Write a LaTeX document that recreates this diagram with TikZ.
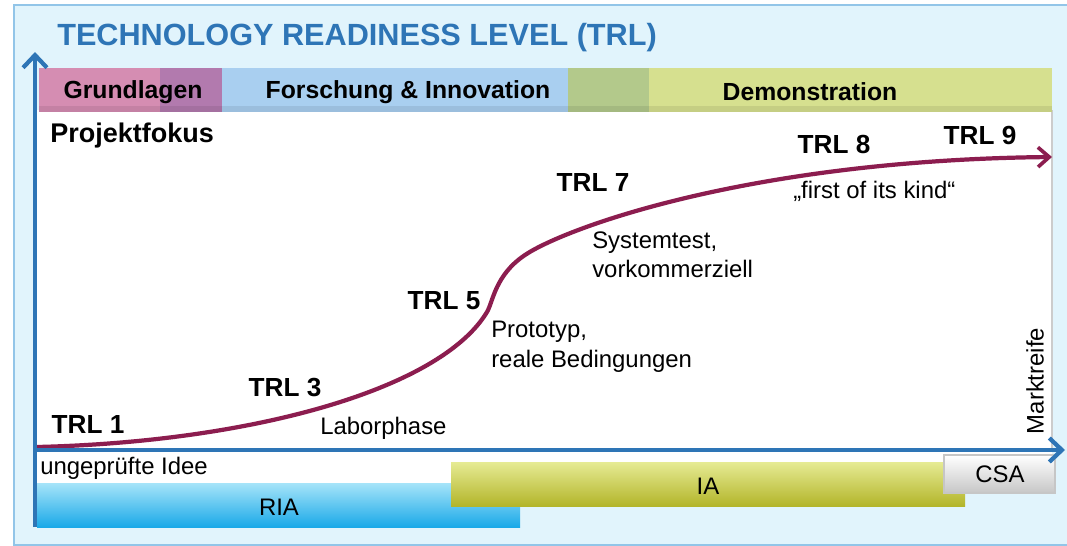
\documentclass[tikz,border=0pt]{standalone}
\usepackage{fontspec}
\setmainfont{Liberation Sans}
\usetikzlibrary{arrows.meta}
\definecolor{bgsky}{HTML}{E1F4FC}
\definecolor{frm}{HTML}{92C5E8}
\definecolor{axblue}{HTML}{2E75B6}
\definecolor{trlred}{HTML}{8C1D4F}
\definecolor{grund}{HTML}{D58DB2}
\definecolor{grfo}{HTML}{B27AAE}
\definecolor{forsch}{HTML}{A9CFF0}
\definecolor{fodemo}{HTML}{B3C98B}
\definecolor{demo}{HTML}{D6E08F}
\definecolor{riatop}{HTML}{A6E4F9}
\definecolor{riabot}{HTML}{1AA9E8}
\definecolor{iatop}{HTML}{E6EB94}
\definecolor{iabot}{HTML}{B3B52A}
\definecolor{csabot}{HTML}{C6C6C6}

\begin{document}
\begin{tikzpicture}[x=0.025cm,y=-0.025cm,inner sep=0pt,
  txt/.style={font=\fontsize{17}{21}\selectfont,align=left},
  trl/.style={font=\fontsize{18.6}{22}\selectfont\bfseries},
  band/.style={font=\fontsize{17.6}{21}\selectfont\bfseries},
  ax/.style={draw=axblue,line width=3pt,-{Straight Barb[length=9pt,width=17pt,line width=3pt]}},
  crv/.style={draw=trlred,line width=3pt,-{Straight Barb[length=8pt,width=14pt,line width=2.6pt]}}]
  \useasboundingbox (0,0) rectangle (1067,546);
  \clip (0,0) rectangle (1067,546);
  \fill[bgsky,draw=frm,line width=1pt] (14,5) rectangle (1080,545);
  \fill[white] (37,110) rectangle (1052,483);
  \draw[gray!40,line width=1.2pt] (1052,110) -- (1052,450);
  \fill[grund] (39,68) rectangle (160,112);\fill[grfo] (160,68) rectangle (222,112);
  \fill[forsch] (222,68) rectangle (568,112);\fill[fodemo] (568,68) rectangle (649,112);
  \fill[demo] (649,68) rectangle (1052,112);\fill[black,opacity=0.08] (39,106) rectangle (1052,112);
  \node[anchor=west,text=axblue,font=\fontsize{21.8}{26}\selectfont\bfseries](ttl) at (57,38){TECHNOLOGY READINESS LEVEL (TRL)};
  \node[band](gl) at (133,92){Grundlagen};
  \node[band](fi) at (408,92){Forschung \& Innovation};
  \node[band](dm) at (810,92){Demonstration};
  \node[anchor=west,font=\fontsize{19.2}{23}\selectfont\bfseries](pf) at (50,136){Projektfokus};
  \shade[top color=riatop,bottom color=riabot] (37,483) rectangle (520,527);
  \shade[top color=iatop,bottom color=iabot] (451,462) rectangle (965,506);
  \shade[top color=white,bottom color=csabot,draw=gray!45,line width=0.8pt] (944,455) rectangle (1055,493);
  \node[txt](ria) at (279,507){RIA};
  \node[txt](ia) at (708,486){IA};
  \node[txt](csa) at (1000,474){CSA};
  \coordinate (o) at (35,450);\coordinate (ya) at (35,52);
  \coordinate (xa) at (1065,450);\coordinate (yb) at (35,527);
  \coordinate (c0) at (37,447);\coordinate (c9) at (1052,157);
  \draw[crv] (c0) .. controls (250,442) and (440,390) .. (487,312)
    .. controls (493,302) and (495,275) .. (525,255)
    .. controls (565,228) and (750,160) .. (c9);
  \draw[ax] (yb) -- (ya);
  \draw[ax] (o) -- (xa);
  \node[trl](t1) at (88,424){TRL 1};
  \node[trl](t3) at (285,388){TRL 3};
  \node[trl](t5) at (444,301){TRL 5};
  \node[trl](t7) at (593,183){TRL 7};
  \node[trl](t8) at (834,144){TRL 8};
  \node[trl](t9) at (980,135){TRL 9};
  \node[txt,anchor=west](idee) at (40,468){ungeprüfte Idee};
  \node[txt,anchor=west](lab) at (320,428){Laborphase};
  \node[txt,anchor=west](proto) at (491,347){Prototyp,\\reale Bedingungen};
  \node[txt,anchor=west](sys) at (592,255){Systemtest,\\vorkommerziell};
  \node[txt,anchor=west](fok) at (793,191){„first of its kind“};
  \node[txt,rotate=90](mr) at (1035,381){Marktreife};
\end{tikzpicture}
\end{document}
